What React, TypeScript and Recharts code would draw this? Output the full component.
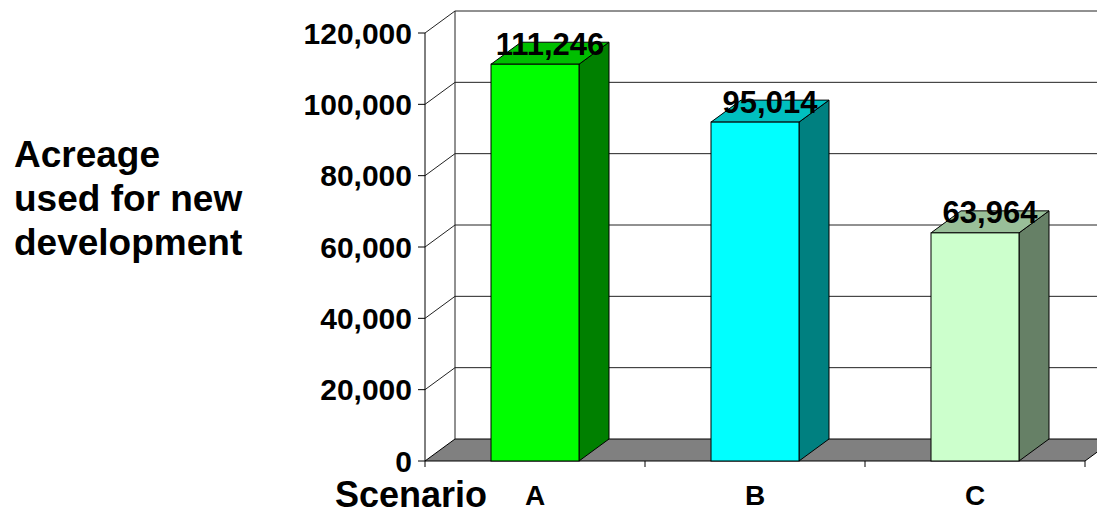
import React from 'react';
import { BarChart, Bar, XAxis, YAxis, CartesianGrid, LabelList } from 'recharts';

// ---- data ----
const categories = ['A', 'B', 'C'];
const acreage = [111246, 95014, 63964];
const yTicks = [0, 20000, 40000, 60000, 80000, 100000, 120000];
const titleLines = ['Acreage', 'used for new', 'development'];
const xAxisTitle = 'Scenario';

// ---- styles ----
const frontColors = ['#00FF00', '#00FFFF', '#CCFFCC'];
const sideColors = ['#008000', '#008080', '#668066'];
const topColors = ['#00BF00', '#00BFBF', '#99BF99'];
const FONT = '"Liberation Sans", Arial, Helvetica, sans-serif';
const DX = 30;
const DY = 22;
const W = 1097;
const H = 509;

const data = categories.map((c, i) => ({ scenario: c, acreage: acreage[i] }));

const fmt = (v: number) => Number(v).toLocaleString('en-US');

function Bar3D(props: any) {
  const { x, y, width, height, payload } = props;
  let idx = props.index;
  if (idx == null && payload) idx = categories.indexOf(payload.scenario);
  const i = idx ?? 0;
  const xr = x + width;
  const yb = y + height;
  return (
    <g>
      <polygon
        points={`${xr},${y} ${xr + DX},${y - DY} ${xr + DX},${yb - DY} ${xr},${yb}`}
        fill={sideColors[i]}
        stroke="#000"
        strokeWidth={1}
      />
      <polygon
        points={`${x},${y} ${x + DX},${y - DY} ${xr + DX},${y - DY} ${xr},${y}`}
        fill={topColors[i]}
        stroke="#000"
        strokeWidth={1}
      />
      <rect x={x} y={y} width={width} height={height} fill={frontColors[i]} stroke="#000" strokeWidth={1} />
    </g>
  );
}

function renderGridLine(props: any) {
  const { x1, y1, x2, key } = props;
  let top = props.y;
  let bottom = props.y != null && props.height != null ? props.y + props.height : undefined;
  if (Array.isArray(props.horizontalPoints) && props.horizontalPoints.length) {
    top = Math.min(...props.horizontalPoints);
    bottom = Math.max(...props.horizontalPoints);
  }
  const isBottom = bottom != null && Math.abs(y1 - bottom) < 0.5;
  const isTop = top != null && Math.abs(y1 - top) < 0.5;
  return (
    <g key={key}>
      {isBottom ? (
        <polygon
          points={`${x1},${y1} ${x2},${y1} ${x2 + DX},${y1 - DY} ${x1 + DX},${y1 - DY}`}
          fill="#808080"
          stroke="#000"
          strokeWidth={1}
        />
      ) : (
        <>
          <line x1={x1 + DX} y1={y1 - DY} x2={x2 + DX} y2={y1 - DY} stroke="#222" strokeWidth={1} />
          <line x1={x1} y1={y1} x2={x1 + DX} y2={y1 - DY} stroke="#222" strokeWidth={1} />
        </>
      )}
      {isTop && bottom != null ? (
        <line x1={x1 + DX} y1={y1 - DY} x2={x1 + DX} y2={bottom - DY} stroke="#222" strokeWidth={1} />
      ) : null}
    </g>
  );
}

function CategoryTick(props: any) {
  const { x, y, payload, index, visibleTicksCount } = props;
  const half = payload && payload.offset ? payload.offset : (W - 425 - 12) / categories.length / 2;
  const last = index === (visibleTicksCount ?? categories.length) - 1;
  return (
    <g>
      <line x1={x - half} y1={y} x2={x - half} y2={y + 6} stroke="#000" strokeWidth={1} />
      {last ? <line x1={x + half} y1={y} x2={x + half} y2={y + 6} stroke="#000" strokeWidth={1} /> : null}
      <text x={x} y={y + 44} textAnchor="middle" fontFamily={FONT} fontWeight="bold" fontSize={28} fill="#000">
        {payload.value}
      </text>
    </g>
  );
}

function ValueLabel(props: any) {
  const { x, y, width, value } = props;
  return (
    <text
      x={x + width / 2 + DX / 2}
      y={y - 9.5}
      textAnchor="middle"
      fontFamily={FONT}
      fontWeight="bold"
      fontSize={31}
      fill="#000"
    >
      {fmt(value)}
    </text>
  );
}

function YTitle() {
  return (
    <text fontFamily={FONT} fontWeight="bold" fontSize={37} fill="#000">
      {titleLines.map((t, i) => (
        <tspan key={i} x={14} y={167 + i * 44}>
          {t}
        </tspan>
      ))}
    </text>
  );
}

function XTitle() {
  return (
    <text x={487} y={507} textAnchor="end" fontFamily={FONT} fontWeight="bold" fontSize={36} fill="#000">
      {xAxisTitle}
    </text>
  );
}

export default function App() {
  return (
    <div
      style={{
        position: 'absolute',
        left: 0,
        top: 0,
        width: W,
        height: H,
        overflow: 'hidden',
        background: '#ffffff',
      }}
    >
      <BarChart
        width={W}
        height={H}
        data={data}
        margin={{ top: 33, right: 12, bottom: 0, left: 0 }}
        barCategoryGap="30%"
      >
        <CartesianGrid horizontal={renderGridLine} vertical={false} />
        <XAxis
          dataKey="scenario"
          height={48}
          axisLine={false}
          tickLine={false}
          tickSize={0}
          tickMargin={0}
          interval={0}
          tick={<CategoryTick />}
          label={<XTitle />}
        />
        <YAxis
          width={425}
          domain={[0, 120000]}
          ticks={yTicks}
          interval={0}
          tickFormatter={fmt}
          tickSize={7}
          tickMargin={6}
          axisLine={{ stroke: '#000', strokeWidth: 1 }}
          tickLine={{ stroke: '#000', strokeWidth: 1 }}
          tick={{ fill: '#000', fontSize: 30, fontWeight: 'bold', fontFamily: FONT }}
          label={<YTitle />}
        />
        <Bar dataKey="acreage" shape={<Bar3D />} isAnimationActive={false}>
          <LabelList dataKey="acreage" content={<ValueLabel />} />
        </Bar>
      </BarChart>
    </div>
  );
}
